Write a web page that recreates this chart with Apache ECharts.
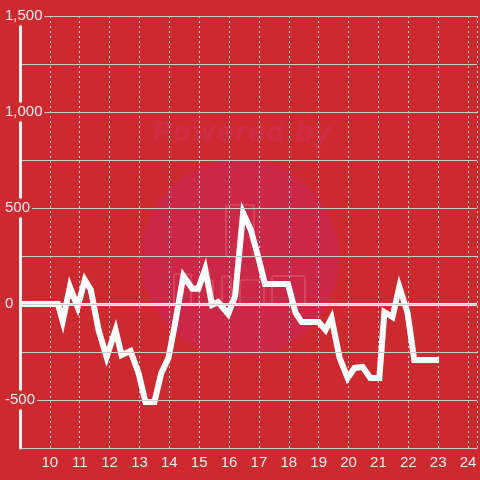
<!DOCTYPE html>
<html>
<head>
<meta charset="utf-8">
<script src="https://cdn.jsdelivr.net/npm/echarts@6/dist/echarts.min.js"></script>
<style>html,body{margin:0;padding:0;background:#cc2a2e;}#c{width:480px;height:480px;}</style>
</head>
<body>
<div id="c"></div>
<script>
// hours (x) and values (y)
const hours = [9.0, 10.27, 10.43, 10.67, 10.93, 11.17, 11.37, 11.63, 11.9, 12.2, 12.4, 12.7, 12.97, 13.2, 13.5, 13.73, 13.97, 14.17, 14.47, 14.77, 14.97, 15.2, 15.43, 15.63, 15.97, 16.2, 16.47, 16.73, 17.0, 17.2, 17.97, 18.23, 18.43, 19.0, 19.23, 19.43, 19.7, 19.97, 20.2, 20.47, 20.73, 21.03, 21.2, 21.47, 21.7, 21.97, 22.2, 23.03];
const values = [0, 0, -90, 89, -16, 125, 75, -135, -276, -135, -266, -245, -360, -510, -510, -360, -281, -120, 146, 80, 80, 182, -5, 10, -52, 40, 474, 385, 230, 104, 104, -47, -94, -94, -135, -73, -281, -385, -333, -328, -385, -385, -42, -68, 89, -42, -292, -292];
const yTicks = [-500, 0, 500, 1000, 1500];

const data = hours.map((h, i) => [h, values[i]]);
const chart = echarts.init(document.getElementById('c'));
const bg = '#cc2a2e';
chart.setOption({
  backgroundColor: bg,
  animation: false,
  textStyle: { fontFamily: 'Liberation Sans' },
  graphic: [
    { type: 'circle', shape: { cx: 240, cy: 258, r: 99 }, style: { fill: '#cb2746' }, z: -10, silent: true },
    { type: 'text', x: 242, y: 134, style: { text: 'Powered by', fill: '#cf2b42', font: 'italic bold 27px "DejaVu Sans"', align: 'center', verticalAlign: 'middle' }, z: -10, silent: true },
    { type: 'rect', shape: { x: 226, y: 205, width: 28, height: 52, r: 3 }, style: { fill: 'none', stroke: 'rgba(255,170,170,0.22)', lineWidth: 2 }, z: -9, silent: true },
    { type: 'rect', shape: { x: 174, y: 274, width: 17, height: 30, r: 2 }, style: { fill: 'none', stroke: 'rgba(255,170,170,0.22)', lineWidth: 2 }, z: -9, silent: true },
    { type: 'rect', shape: { x: 199, y: 280, width: 14, height: 24, r: 2 }, style: { fill: 'none', stroke: 'rgba(255,170,170,0.22)', lineWidth: 2 }, z: -9, silent: true },
    { type: 'rect', shape: { x: 222, y: 276, width: 9, height: 28, r: 2 }, style: { fill: 'none', stroke: 'rgba(255,170,170,0.22)', lineWidth: 2 }, z: -9, silent: true },
    { type: 'rect', shape: { x: 240, y: 280, width: 24, height: 24, r: 2 }, style: { fill: 'none', stroke: 'rgba(255,170,170,0.22)', lineWidth: 2 }, z: -9, silent: true },
    { type: 'rect', shape: { x: 272, y: 276, width: 33, height: 28, r: 2 }, style: { fill: 'none', stroke: 'rgba(255,170,170,0.22)', lineWidth: 2 }, z: -9, silent: true }
  ],
  grid: { left: 20, right: 0, top: 16, bottom: 32, containLabel: false },
  xAxis: {
    type: 'value', min: 9, max: 24.3, interval: 1,
    axisLine: { show: true, onZero: false, lineStyle: { color: '#cccccc', width: 1 } },
    axisTick: { show: false },
    axisLabel: {
      color: '#eeeeee', fontSize: 15, margin: 7,
      formatter: v => (v === 9 || v % 1 !== 0) ? '' : String(v)
    },
    splitLine: { show: true, lineStyle: { color: '#dddddd', type: [2, 3], width: 1 } }
  },
  yAxis: {
    type: 'value', min: -750, max: 1500, interval: 250, z: 5,
    axisLine: { show: true, lineStyle: { color: '#eeeeee', width: 3 } },
    axisTick: { show: false },
    axisLabel: {
      color: '#eeeeee', fontSize: 15, align: 'left', margin: 17,
      backgroundColor: bg, padding: [2, 2],
      formatter: v => yTicks.includes(v) ? echarts.format.addCommas(v) : ''
    },
    splitLine: { show: true, lineStyle: { color: '#cccccc', width: 1 } }
  },
  series: [{
    type: 'line',
    data: data,
    showSymbol: false,
    symbol: 'none',
    lineStyle: { color: '#ffffff', width: 6, join: 'miter' },
    z: 3,
    markLine: {
      silent: true, symbol: 'none', label: { show: false },
      lineStyle: { color: '#eeeeee', width: 3, type: 'solid' },
      data: [{ yAxis: 0 }],
      z: 2
    }
  }]
});
</script>
</body>
</html>
